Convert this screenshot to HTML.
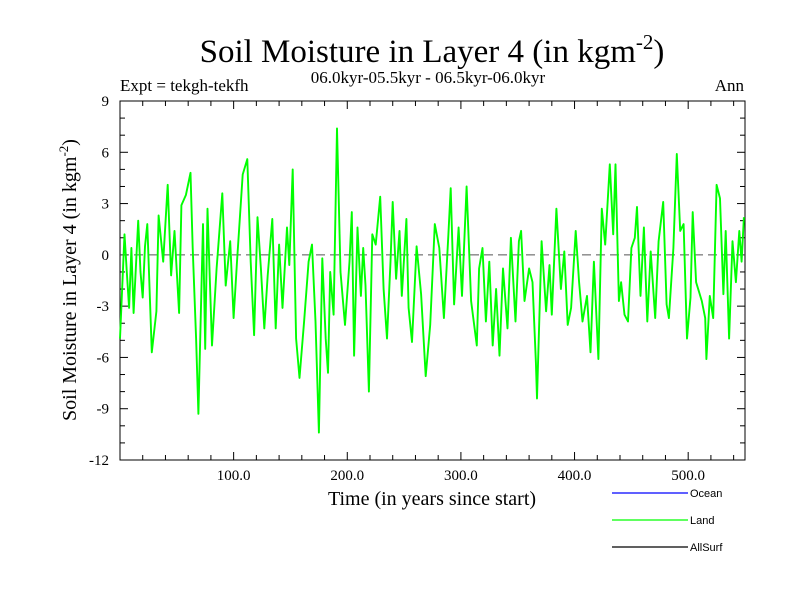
<!DOCTYPE html>
<html><head><meta charset="utf-8"><style>
body{margin:0;background:#fff;}
svg{display:block;font-family:"Liberation Serif",serif;}
</style></head><body>
<svg id="chart" width="800" height="600" viewBox="0 0 800 600">
<text x="432" y="62" font-size="33" text-anchor="middle">Soil Moisture in Layer 4 (in kgm<tspan dy="-13" font-size="21">-2</tspan><tspan dy="13">)</tspan></text>
<text x="120" y="91" font-size="17">Expt = tekgh-tekfh</text>
<text x="428" y="83" font-size="17" text-anchor="middle">06.0kyr-05.5kyr - 06.5kyr-06.0kyr</text>
<text x="744" y="91" font-size="17" text-anchor="end">Ann</text>
<text transform="translate(76,280) rotate(-90)" font-size="20" text-anchor="middle">Soil Moisture in Layer 4 (in kgm<tspan dy="-8" font-size="13">-2</tspan><tspan dy="8">)</tspan></text>
<text x="432" y="505" font-size="20" text-anchor="middle">Time (in years since start)</text>
<g id="axes"></g>
<g id="plot"></g>
<g font-family="Liberation Sans, sans-serif" font-size="11">
<line x1="612" y1="493" x2="688" y2="493" stroke="#0000ff" stroke-width="1.3"/>
<text x="690" y="497">Ocean</text>
<line x1="612" y1="520" x2="688" y2="520" stroke="#00ff00" stroke-width="1.3"/>
<text x="690" y="524">Land</text>
<line x1="612" y1="547" x2="688" y2="547" stroke="#000" stroke-width="1.3"/>
<text x="690" y="551">AllSurf</text>
</g>
</svg>
<script>
const years=[0,4,6,8,10,12,16,18,20,22,24,28,32,34,38,42,45,48,52,54,58,62,64,67,69,73,75,77,81,85,90,93,97,100,103,108,112,115,118,121,124,127,130,134,137,140,
143,147,149,152,155,158,162,166,169,172,175,178,181,183,185,188,191,194,198,202,204,206,209,212,214,216,219,222,225,229,232,235,238,240,243,246,248,252,254,257,261,265,269,273,
277,281,285,289,291,294,298,301,305,309,314,316,319,322,325,328,331,334,337,341,344,348,351,353,356,360,363,366,367,371,375,378,380,384,388,391,394,397,401,404,407,411,
414,417,421,424,427,431,434,436,439,441,444,447,450,453,455,458,461,464,467,471,474,478,481,483,487,490,493,496,499,502,504,507,512,515,516,519,522,525,528,531,533,536,539,542,545,547,549];
const landValues=[-4.9,1.2,-1,-3.1,0.4,-3.4,2,-1,-2.5,0.5,1.8,-5.7,-3.3,2.3,-0.4,4.1,-1.2,1.4,-3.4,2.9,3.5,4.8,0.4,-4.9,-9.3,1.8,-5.5,2.7,-5.3,-0.8,3.6,-1.8,0.8,-3.7,-0.4,4.7,5.6,-0.4,-4.7,2.2,-0.8,-4.3,-1.2,2.1,-4.3,0.6,
-3.1,1.6,-0.6,5.0,-4.9,-7.2,-3.9,-0.4,0.6,-3.9,-10.4,-0.2,-4.9,-6.9,-1,-3.5,7.4,-1,-4.1,-0.4,2.5,-5.9,1.6,-2.4,0.4,-1.8,-8.0,1.2,0.6,3.4,-2,-4.9,-0.4,3.1,-1.4,1.4,-2.4,2.1,-3.1,-5.1,0.5,-2.3,-7.1,-4.1,
1.8,0.4,-3.7,1.2,3.9,-2.9,1.6,-2.4,4.0,-2.7,-5.3,-0.8,0.4,-3.9,-0.4,-5.3,-2,-5.9,-0.8,-4.3,1.0,-3.9,0.8,1.4,-2.7,-0.8,-1.6,-6.3,-8.4,0.8,-3.3,-0.6,-3.5,2.7,-2,0.2,-4.1,-3.1,1.4,-1.6,-3.9,-2.4,
-5.7,-0.4,-6.1,2.7,0.6,5.3,1.2,5.3,-2.7,-1.6,-3.5,-3.9,0.4,1,2.8,-2.4,1.6,-3.9,0.2,-3.7,0.8,3.1,-2.9,-3.7,0.4,5.9,1.4,1.8,-4.9,-2.5,2.5,-1.6,-2.7,-3.7,-6.1,-2.4,-3.7,4.1,3.3,-2.3,1.4,-4.9,0.8,-1.6,1.4,-0.4,2.2];
const yTicks=[-12,-9,-6,-3,0,3,6,9];
const xTicks=[100,200,300,400,500];
const xTickLabels=["100.0","200.0","300.0","400.0","500.0"];
const X0=120,X1=745,Y0=101,Y1=460,XMIN=0,XMAX=550,YMIN=-12,YMAX=9;
const sx=v=>X0+(v-XMIN)/(XMAX-XMIN)*(X1-X0);
const sy=v=>Y1-(v-YMIN)/(YMAX-YMIN)*(Y1-Y0);
const NS="http://www.w3.org/2000/svg";
const axes=document.getElementById('axes'),plot=document.getElementById('plot');
function mk(tag,attrs,parent){const e=document.createElementNS(NS,tag);for(const k in attrs)e.setAttribute(k,attrs[k]);parent.appendChild(e);return e;}
const frame=mk('rect',{x:X0,y:Y0,width:X1-X0,height:Y1-Y0,fill:'none',stroke:'#000','stroke-width':1},axes);


for(let v=YMIN;v<=YMAX;v++){const maj=v%3===0,l=maj?8:5;
 const t1=mk('line',{x1:X0,x2:X0+l,y1:sy(v),y2:sy(v),stroke:'#000'},axes);
 
 
 const t2=mk('line',{x1:X1,x2:X1-l,y1:sy(v),y2:sy(v),stroke:'#000'},axes);
 
 }
yTicks.forEach(v=>{const t=mk('text',{x:X0-11,y:sy(v)+5,'font-size':15,'text-anchor':'end'},axes);t.textContent=String(v);
 
 });
for(let v=20;v<XMAX;v+=20){const maj=v%100===0,l=maj?8:5;
 const t1=mk('line',{x1:sx(v),x2:sx(v),y1:Y1,y2:Y1-l,stroke:'#000'},axes);
 
 
 const t2=mk('line',{x1:sx(v),x2:sx(v),y1:Y0,y2:Y0+l,stroke:'#000'},axes);
 
 }
xTicks.forEach((v,i)=>{const t=mk('text',{x:sx(v),y:Y1+20,'font-size':15,'text-anchor':'middle'},axes);t.textContent=xTickLabels[i];
 
 });
const zl=mk('line',{x1:X0,x2:X1,y1:sy(0),y2:sy(0),stroke:'#555','stroke-dasharray':'9,5'},plot);


const pts=years.map((y,i)=>sx(y).toFixed(1)+','+sy(landValues[i]).toFixed(1)).join(' ');
const pl=mk('polyline',{points:pts,fill:'none',stroke:'#00ff00','stroke-width':1.9,'stroke-linejoin':'round'},plot);


</script>
</body></html>
